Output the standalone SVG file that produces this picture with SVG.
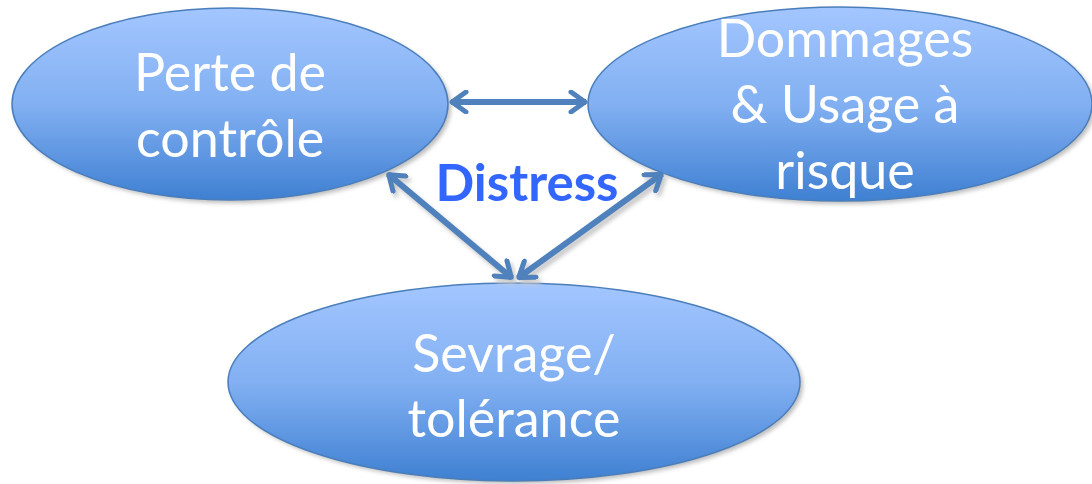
<svg xmlns="http://www.w3.org/2000/svg" width="1092" height="484" viewBox="0 0 1092 484">
  <defs>
    <linearGradient id="bubbleFill" x1="0" y1="0" x2="0" y2="1">
      <stop offset="0" stop-color="#a3c6ff"/>
      <stop offset="0.5" stop-color="#82b0f2"/>
      <stop offset="1" stop-color="#3f80d2"/>
    </linearGradient>
    <filter id="softShadow" x="-10%" y="-10%" width="120%" height="130%">
      <feGaussianBlur stdDeviation="2"/>
    </filter>
    <marker id="chevron" viewBox="0 0 20 24" refX="18" refY="12" markerWidth="20" markerHeight="24" markerUnits="userSpaceOnUse" orient="auto-start-reverse">
      <path d="M3,2 L17,12 L3,22" fill="none" stroke="#4f81bd" stroke-width="5" stroke-linecap="round" stroke-linejoin="round"/>
    </marker>
    <marker id="chevronShadow" viewBox="0 0 20 24" refX="18" refY="12" markerWidth="20" markerHeight="24" markerUnits="userSpaceOnUse" orient="auto-start-reverse">
      <path d="M3,2 L17,12 L3,22" fill="none" stroke="#c8c8c8" stroke-width="5" stroke-linecap="round" stroke-linejoin="round"/>
    </marker>
  </defs>
  <style>
    .shadow { fill: #bdbdbd; filter: url(#softShadow); }
    .bubble { fill: url(#bubbleFill); stroke: #4a7ebb; stroke-width: 1.5; }
    .label { fill: #ffffff; font-family: Lato, "Open Sans", "Liberation Sans", sans-serif; font-size: 52px; text-anchor: middle; }
    .link { fill: none; stroke: #4f81bd; stroke-width: 6; marker-start: url(#chevron); marker-end: url(#chevron); }
    .linkShadow { fill: none; stroke: #c8c8c8; stroke-width: 6; marker-start: url(#chevronShadow); marker-end: url(#chevronShadow); filter: url(#softShadow); }
    .title { fill: #3366ff; font-family: Lato, "Open Sans", "Liberation Sans", sans-serif; font-weight: bold; font-size: 51px; text-anchor: middle; }
  </style>

  <rect width="1092" height="484" fill="#ffffff"/>

  <g id="perte-de-controle">
    <ellipse class="shadow" cx="233" cy="107" rx="218" ry="96"/>
    <ellipse class="bubble" cx="230" cy="104" rx="218" ry="96"/>
    <text class="label" x="230" y="91">Perte de</text>
    <text class="label" x="230" y="157">contrôle</text>
  </g>

  <g id="dommages-usage">
    <ellipse class="shadow" cx="843" cy="107" rx="252" ry="97"/>
    <ellipse class="bubble" cx="840" cy="104" rx="252" ry="97"/>
    <text class="label" x="845" y="57">Dommages</text>
    <text class="label" x="845" y="123">&amp; Usage à</text>
    <text class="label" x="845" y="189">risque</text>
  </g>

  <g id="sevrage-tolerance">
    <ellipse class="shadow" cx="517" cy="385" rx="286" ry="99"/>
    <ellipse class="bubble" cx="514" cy="382" rx="286" ry="99"/>
    <text class="label" x="514" y="372">Sevrage/</text>
    <text class="label" x="514" y="437">tolérance</text>
  </g>

  <g id="connectors">
    <line class="linkShadow" x1="454" y1="106" x2="588" y2="106"/>
    <line class="linkShadow" x1="391" y1="178" x2="515" y2="282"/>
    <line class="linkShadow" x1="665" y1="178" x2="521" y2="282"/>
    <line class="link" x1="451" y1="102" x2="586" y2="102"/>
    <line class="link" x1="388" y1="174" x2="512" y2="278"/>
    <line class="link" x1="662" y1="174" x2="518" y2="278"/>
  </g>

  <g id="distress">
    <text class="title" x="527" y="201">Distress</text>
  </g>
</svg>
